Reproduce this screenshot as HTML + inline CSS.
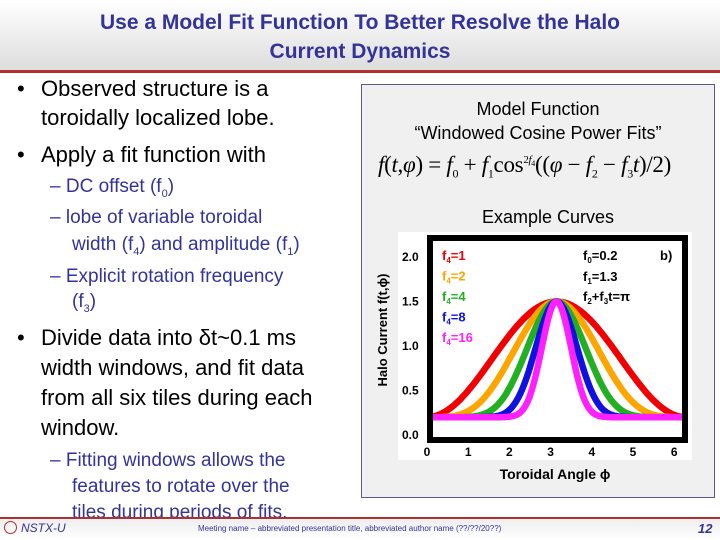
<!DOCTYPE html>
<html><head><meta charset="utf-8"><style>
body{margin:0;width:720px;height:540px;overflow:hidden;background:#fff;font-family:"Liberation Sans",sans-serif;position:relative}
.a{position:absolute;white-space:nowrap;line-height:1}
.hdr{position:absolute;left:0;top:0;width:720px;height:70px;background:linear-gradient(#fff,#ddd)}
.b{font-size:22px;color:#000}
.s{font-size:19px;color:#333399}
.t{font-size:21px;font-weight:bold;color:#333399;width:720px;text-align:center;left:0}
</style></head><body>
<div class="hdr"></div>
<div class="a t" style="top:12px">Use a Model Fit Function To Better Resolve the Halo<br><span style="line-height:38px">Current Dynamics</span></div>
<div class="a" style="left:0;top:70px;width:720px;height:3px;background:#b03030"></div>

<div>
<div class="a b" style="left:17px;top:78px">•</div>
<div class="a b" style="left:41px;top:78px">Observed structure is a</div>
<div class="a b" style="left:41px;top:107px">toroidally localized lobe.</div>
<div class="a b" style="left:17px;top:144px">•</div>
<div class="a b" style="left:41px;top:144px">Apply a fit function with</div>
<div class="a s" style="left:50px;top:177px">– DC offset (f<sub style="font-size:11px">0</sub>)</div>
<div class="a s" style="left:50px;top:208px">– lobe of variable toroidal</div>
<div class="a s" style="left:72px;top:235px">width (f<sub style="font-size:11px">4</sub>) and amplitude (f<sub style="font-size:11px">1</sub>)</div>
<div class="a s" style="left:50px;top:267px">– Explicit rotation frequency</div>
<div class="a s" style="left:72px;top:292px">(f<sub style="font-size:11px">3</sub>)</div>
<div class="a b" style="left:17px;top:327px">•</div>
<div class="a b" style="left:41px;top:327px">Divide data into δt~0.1 ms</div>
<div class="a b" style="left:41px;top:357px">width windows, and fit data</div>
<div class="a b" style="left:41px;top:387px">from all six tiles during each</div>
<div class="a b" style="left:41px;top:417px">window.</div>
<div class="a s" style="left:50px;top:451px">– Fitting windows allows the</div>
<div class="a s" style="left:72px;top:477px">features to rotate over the</div>
<div class="a s" style="left:72px;top:503px">tiles during periods of fits.</div>
</div>

<div class="a" style="left:361px;top:84px;width:352px;height:412px;background:#f0f0f0;border:1px solid #5a5a8a"></div>
<div class="a" style="left:361px;top:97px;width:354px;text-align:center;font-size:18px;line-height:24px">Model Function<br>“Windowed Cosine Power Fits”</div>
<div class="a" style="left:378px;top:153px;font-family:'Liberation Serif',serif;font-size:23px;letter-spacing:-0.3px"><i>f</i>(<i>t</i>,<i>φ</i>) = <i>f</i><sub style="font-size:12px">0</sub> + <i>f</i><sub style="font-size:12px">1</sub>cos<sup style="font-size:11px">2<i>f</i><sub style="font-size:8px">4</sub></sup>((<i>φ</i> − <i>f</i><sub style="font-size:12px">2</sub> − <i>f</i><sub style="font-size:12px">3</sub><i>t</i>)/2)</div>
<div class="a" style="left:482px;top:208px;font-size:18px">Example Curves</div>

<svg id="chart" class="a" style="left:0;top:0" width="720" height="540"></svg>

<div>
<div class="a" style="left:0;top:517px;width:720px;height:2px;background:#b03030"></div>
<div class="a" style="left:0;top:519px;width:720px;height:21px;background:linear-gradient(#eee,#fff)"></div>
<div class="a" style="left:4px;top:521px;width:13px;height:13px;border-radius:50%;border:1px solid #a33;box-sizing:border-box"></div>
<div class="a" style="left:21px;top:522px;font-size:12px;font-style:italic;color:#333399">NSTX-U</div>
<div class="a" style="left:198px;top:525px;font-size:8px;color:#333399">Meeting name – abbreviated presentation title, abbreviated author name (??/??/20??)</div>
<div class="a" style="left:698px;top:522px;font-size:13px;font-weight:bold;font-style:italic;color:#333399">12</div>
</div>

<script>
const f4Values=[1,2,4,8,16];
const f0Value=[0.2];
const f1Value=[1.3];
const centerValue=[Math.PI];
const xTicks=[0,1,2,3,4,5,6];
const yTicks=["0.0","0.5","1.0","1.5","2.0"];
const colors=["#f00000","#ffa500","#22b022","#1010e0","#ff20ff"];
const NS="http://www.w3.org/2000/svg";
const svg=document.getElementById('chart');
const X=v=>427+v*41.2, Y=v=>435-v*89;
function mk(t,a,p){const e=document.createElementNS(NS,t);for(const k in a)e.setAttribute(k,a[k]);(p||svg).appendChild(e);return e;}
const bg=mk('rect',{x:398,y:232,width:294,height:228,fill:'#fff'});


f4Values.forEach((f4,i)=>{let d='';for(let k=0;k<=200;k++){const p=2*Math.PI*k/200;const v=f0Value[0]+f1Value[0]*Math.pow(Math.cos((p-centerValue[0])/2),2*f4);d+=(k?'L':'M')+X(p).toFixed(1)+','+Y(v).toFixed(1);}
const l=mk('path',{d:d,fill:'none',stroke:colors[i],'stroke-width':6.5,'stroke-linejoin':'round'});


const t=mk('text',{x:442,y:260+i*20.5,fill:colors[i],'font-size':13,'font-weight':'bold','font-family':'Liberation Sans'});
t.innerHTML='f<tspan font-size="8" dy="3">4</tspan><tspan dy="-3">='+f4+'</tspan>';


});
const fr=mk('rect',{x:430,y:238,width:255,height:202,fill:'none',stroke:'#000','stroke-width':6});


xTicks.forEach(v=>{const t=mk('text',{x:X(v),y:456,'text-anchor':'middle','font-size':12,'font-weight':'bold','font-family':'Liberation Sans'});t.textContent=v;

});
yTicks.forEach(s=>{const t=mk('text',{x:402,y:Y(+s)+4,'font-size':12,'font-weight':'bold','font-family':'Liberation Sans'});t.textContent=s;

});
[['f0=0.2','0',260],['f1=1.3','1',281],['f2+f3t=π','',301]].forEach(([s,sub,y],i)=>{const t=mk('text',{x:583,y:y,'font-size':13,'font-weight':'bold','font-family':'Liberation Sans'});
t.innerHTML=i<2?'f<tspan font-size="8" dy="3">'+sub+'</tspan><tspan dy="-3">'+s.slice(2)+'</tspan>':'f<tspan font-size="8" dy="3">2</tspan><tspan dy="-3">+f</tspan><tspan font-size="8" dy="3">3</tspan><tspan dy="-3">t=π</tspan>';

});
const bl=mk('text',{x:660,y:260,'font-size':13,'font-weight':'bold','font-family':'Liberation Sans'});bl.textContent='b)';


const yt=mk('text',{x:0,y:0,'font-size':13,'font-weight':'bold','font-family':'Liberation Sans','text-anchor':'middle',transform:'translate(387,330) rotate(-90)'});yt.textContent='Halo Current f(t,ϕ)';


const xt=mk('text',{x:555,y:479,'font-size':14,'font-weight':'bold','font-family':'Liberation Sans','text-anchor':'middle'});xt.textContent='Toroidal Angle ϕ';


</script>
</body></html>
